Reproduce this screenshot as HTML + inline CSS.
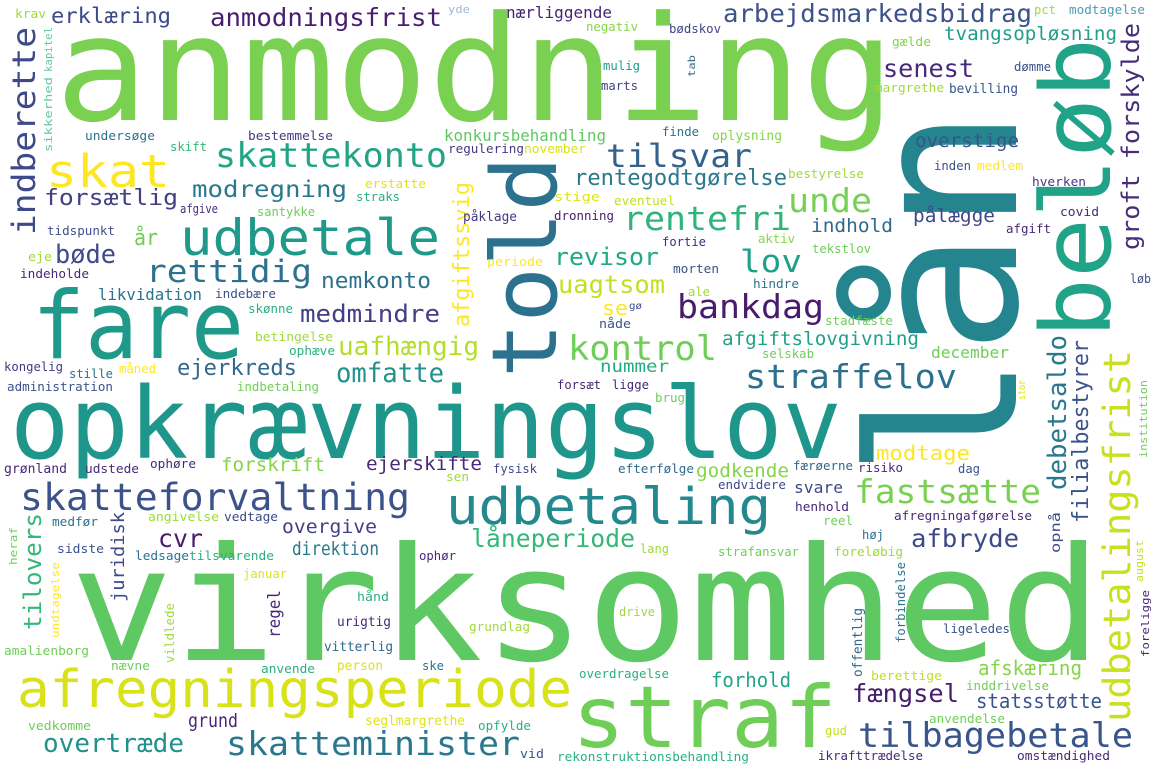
<!DOCTYPE html>
<html><head><meta charset="utf-8"><title>Word cloud</title>
<style>
html,body{margin:0;padding:0;background:#fff;}
svg{display:block;}
text{font-family:"DejaVu Sans Mono","Liberation Mono",monospace;}
</style></head>
<body>
<svg id="cloud" width="1155" height="770" viewBox="0 0 1155 770" xmlns="http://www.w3.org/2000/svg">
<rect x="0" y="0" width="1155" height="770" fill="#ffffff"/>
</svg>
<script>
// [word, x, baselineY, fontSize, textLength, rotated, color]
const cloud = [
["anmodning",55,120,146,840,0,"#7ad151"],
["lån",1016,478,205,370,1,"#25858e"],
["virksomhed",70,660,158,1032,0,"#5ec962"],
["opkrævningslov",10,458,99,832,0,"#1f968b"],
["fare",32,358,94,212,0,"#1f998a"],
["told",556,378,90,222,1,"#2c728e"],
["beløb",1110,338,96,300,1,"#20a386"],
["straf",572,747,86,265,0,"#6ece58"],
["afregningsperiode",17,707,52,555,0,"#d8e219"],
["udbetale",180,255,50,260,0,"#1f9a8a"],
["udbetaling",446,524,51,325,0,"#23898e"],
["skat",46,187,45,124,0,"#fde725"],
["skattekonto",215,167,34,232,0,"#21a585"],
["skatteforvaltning",20,510,37,390,0,"#3b528b"],
["skatteminister",226,755,33,294,0,"#2a788e"],
["tilbagebetale",858,747,34,275,0,"#39568c"],
["udbetalingsfrist",1130,722,37,372,1,"#c8e020"],
["fastsætte",854,503,33,187,0,"#7ad151"],
["rentefri",623,230,33,168,0,"#2fb47c"],
["tilsvar",606,167,32,146,0,"#33638d"],
["unde",788,212,33,84,0,"#75d054"],
["bankdag",677,318,33,147,0,"#481b6d"],
["kontrol",568,360,34,149,0,"#6ece58"],
["straffelov",745,388,33,212,0,"#2d708e"],
["lov",740,272,31,62,0,"#1fa187"],
["rettidig",146,282,31,166,0,"#2c728e"],
["medmindre",300,322,24,140,0,"#433e85"],
["indberette",35,235,32,208,1,"#3e4989"],
["erklæring",51,23,21,120,0,"#3e4989"],
["anmodningsfrist",210,26,25,232,0,"#481f70"],
["arbejdsmarkedsbidrag",723,22,25,309,0,"#3b528b"],
["senest",883,77,25,91,0,"#482878"],
["groft forskylde",1139,250,24,227,1,"#472c7a"],
["tvangsopløsning",944,40,19,173,0,"#1f9e89"],
["modregning",192,197,23,155,0,"#2a788e"],
["forsætlig",44,205,22,134,0,"#433e85"],
["bøde",55,263,26,61,0,"#3e4a89"],
["år",134,245,22,24,0,"#6ece58"],
["nemkonto",321,288,22,110,0,"#2c728e"],
["uafhængig",338,355,26,141,0,"#b5de2b"],
["ejerkreds",177,375,22,120,0,"#31688e"],
["omfatte",336,382,27,108,0,"#21918c"],
["revisor",554,265,24,105,0,"#22a884"],
["uagtsom",558,293,25,107,0,"#c2df23"],
["se",602,315,20,26,0,"#fde725"],
["overstige",915,147,19,104,0,"#3b528b"],
["pålægge",913,222,19,82,0,"#3e4989"],
["indhold",811,232,19,82,0,"#31688e"],
["afgiftslovgivning",722,345,19,197,0,"#1fa187"],
["december",931,358,16,78,0,"#6ece58"],
["nummer",600,372,17,69,0,"#23a983"],
["debetsaldo",1066,490,26,155,1,"#2a788e"],
["filialbestyrer",1088,523,22,183,1,"#3b528b"],
["modtage",876,460,20,94,0,"#fde725"],
["godkende",696,477,19,93,0,"#86d549"],
["ejerskifte",366,470,19,116,0,"#482878"],
["forskrift",221,471,19,104,0,"#86d549"],
["afbryde",911,547,25,108,0,"#3e4989"],
["låneperiode",471,547,25,164,0,"#35b779"],
["fængsel",852,702,25,107,0,"#481b6d"],
["statsstøtte",976,708,20,126,0,"#3b528b"],
["afskæring",978,675,20,104,0,"#86d549"],
["forhold",711,687,20,80,0,"#21a585"],
["tilovers",41,630,24,117,1,"#35b779"],
["juridisk",124,602,18,90,1,"#3e4a89"],
["cvr",158,547,25,45,0,"#481b6d"],
["overgive",282,533,19,95,0,"#433e85"],
["direktion",292,555,19,87,0,"#2a788e"],
["overtræde",43,752,26,141,0,"#21918c"],
["grund",188,727,19,50,0,"#482878"],
["regel",280,638,17,48,1,"#482878"],
["rentegodtgørelse",574,185,22,213,0,"#2a788e"],
["afgiftssvig",469,327,22,145,1,"#fde725"],
["svare",794,493,16,49,0,"#3e4989"],
["krav",15,18,12,31,0,"#a0da39"],
["kapitel",52,72,11,45,1,"#5ec9a0"],
["sikkerhed",52,152,11,75,1,"#5ec9a0"],
["yde",448,13,11,22,0,"#9eb8d8"],
["nærliggende",506,18,16,106,0,"#482475"],
["negativ",586,31,12,52,0,"#86d549"],
["bødskov",669,33,12,52,0,"#414487"],
["pct",1034,14,12,22,0,"#a5db36"],
["modtagelse",1069,14,12,76,0,"#4c9db0"],
["gælde",892,46,12,39,0,"#86d549"],
["mulig",603,70,12,37,0,"#1f9e89"],
["tab",695,77,10,22,1,"#31688e"],
["marts",601,90,12,37,0,"#414487"],
["dømme",1014,71,12,37,0,"#3b528b"],
["margrethe",875,92,12,69,0,"#a0da39"],
["bevilling",949,93,13,69,0,"#3b528b"],
["undersøge",85,140,12,70,0,"#2c728e"],
["bestemmelse",248,140,12,85,0,"#443983"],
["skift",170,151,12,37,0,"#35b779"],
["konkursbehandling",444,141,16,162,0,"#5ec962"],
["regulering",448,153,12,76,0,"#443983"],
["november",524,153,12,62,0,"#d8e219"],
["finde",662,136,12,37,0,"#2c728e"],
["oplysning",712,140,13,70,0,"#86d549"],
["erstatte",365,188,12,61,0,"#dde318"],
["straks",356,201,12,44,0,"#2ab07f"],
["stige",554,201,12,46,0,"#dde318"],
["bestyrelse",788,178,12,76,0,"#a0da39"],
["inden",934,170,12,37,0,"#3b528b"],
["medlem",977,170,12,46,0,"#fde725"],
["hverken",1032,186,12,54,0,"#443983"],
["afgive",180,213,12,38,0,"#472d7b"],
["santykke",257,216,12,58,0,"#6ece58"],
["påklage",463,221,13,54,0,"#443983"],
["dronning",554,220,12,60,0,"#481b6d"],
["eventuel",614,205,12,61,0,"#c2df23"],
["covid",1060,216,12,39,0,"#482878"],
["afgift",1006,233,12,45,0,"#482878"],
["tidspunkt",47,235,12,68,0,"#3b528b"],
["aktiv",758,243,12,37,0,"#86d549"],
["fortie",662,246,12,44,0,"#482878"],
["tekstlov",812,253,12,59,0,"#6ece58"],
["eje",28,261,12,24,0,"#a0da39"],
["periode",487,266,12,56,0,"#fde725"],
["morten",673,273,12,46,0,"#3b528b"],
["indeholde",20,278,12,69,0,"#482878"],
["løb",1130,283,12,21,0,"#3b528b"],
["hindre",753,288,12,46,0,"#2c728e"],
["ale",688,296,12,22,0,"#a0da39"],
["indebære",215,298,12,61,0,"#3b528b"],
["likvidation",98,300,16,104,0,"#2c728e"],
["gø",629,309,10,13,0,"#3b528b"],
["skønne",248,313,12,45,0,"#2ab07f"],
["nåde",599,328,12,32,0,"#3b528b"],
["stadfæste",825,325,12,68,0,"#6ece58"],
["betingelse",255,341,12,78,0,"#a0da39"],
["ophæve",289,355,12,46,0,"#2ab07f"],
["selskab",762,358,12,52,0,"#6ece58"],
["måned",119,373,12,37,0,"#fde725"],
["kongelig",4,371,12,59,0,"#443983"],
["stille",69,378,12,44,0,"#2c728e"],
["administration",7,391,12,106,0,"#3b528b"],
["indbetaling",237,391,12,82,0,"#6ece58"],
["forsæt",557,389,12,44,0,"#482878"],
["ligge",612,389,12,37,0,"#482878"],
["stor",1025,400,10,20,1,"#d8e219"],
["institution",1147,458,11,78,1,"#6ece58"],
["brug",655,402,12,30,0,"#6ece58"],
["grønland",4,473,13,63,0,"#482878"],
["udstede",85,473,12,54,0,"#482878"],
["ophøre",150,468,12,46,0,"#482878"],
["fysisk",493,473,12,44,0,"#3e4989"],
["sen",446,481,12,23,0,"#a0da39"],
["efterfølge",618,473,12,76,0,"#31688e"],
["færøerne",793,470,12,60,0,"#31688e"],
["risiko",858,472,12,45,0,"#482878"],
["dag",958,473,12,22,0,"#3b528b"],
["endvidere",718,489,12,68,0,"#3e4989"],
["henhold",795,511,12,54,0,"#482878"],
["afregningafgørelse",894,520,12,138,0,"#482878"],
["reel",823,525,12,30,0,"#6ece58"],
["angivelse",148,521,12,71,0,"#a0da39"],
["vedtage",224,521,12,54,0,"#3e4989"],
["medfør",52,526,12,46,0,"#2c728e"],
["heraf",17,565,11,38,1,"#6ece58"],
["opnå",1060,553,13,41,1,"#3e4989"],
["høj",862,539,12,22,0,"#2c728e"],
["sidste",57,553,12,47,0,"#3b528b"],
["ledsage",135,560,12,54,0,"#2c728e"],
["tilsvarende",189,560,12,85,0,"#2ab07f"],
["ophør",419,560,12,37,0,"#482878"],
["lang",640,553,12,29,0,"#a0da39"],
["strafansvar",718,556,12,81,0,"#6ece58"],
["foreløbig",834,556,12,69,0,"#a0da39"],
["august",1143,582,11,42,1,"#c8e020"],
["januar",243,578,12,44,0,"#dde318"],
["undtagelse",59,638,11,76,1,"#fde725"],
["forbindelse",905,643,12,81,1,"#2c728e"],
["hånd",357,601,12,32,0,"#2ab07f"],
["vildlede",174,663,12,60,1,"#a0da39"],
["drive",619,616,12,36,0,"#a0da39"],
["offentlig",862,677,13,69,1,"#31688e"],
["urigtig",337,626,13,54,0,"#482878"],
["grundlag",469,631,12,61,0,"#a0da39"],
["ligeledes",943,633,12,67,0,"#3b528b"],
["foreligge",1149,657,11,67,1,"#482878"],
["amalienborg",4,655,12,85,0,"#6ece58"],
["vitterlig",324,651,13,69,0,"#31688e"],
["nævne",111,670,12,39,0,"#6ece58"],
["anvende",261,673,12,54,0,"#2ab07f"],
["person",337,670,13,46,0,"#dde318"],
["ske",422,670,12,22,0,"#2c728e"],
["overdragelse",579,678,12,90,0,"#2ab07f"],
["berettige",871,680,12,71,0,"#c2df23"],
["inddrivelse",966,690,12,83,0,"#6ece58"],
["anvendelse",929,723,12,76,0,"#6ece58"],
["vedkomme",28,730,12,63,0,"#6ece58"],
["seglmargrethe",365,725,13,100,0,"#dde318"],
["opfylde",478,730,12,53,0,"#2ab07f"],
["gud",825,735,12,22,0,"#c2df23"],
["vid",520,758,12,24,0,"#3b528b"],
["rekonstruktionsbehandling",557,761,12,192,0,"#2ab07f"],
["ikrafttrædelse",818,760,12,105,0,"#482878"],
["omstændighed",1017,760,12,93,0,"#482878"]
];
const words = cloud.map(function(c){return c[0];});
const fontSizes = cloud.map(function(c){return c[3];});
const colors = cloud.map(function(c){return c[6];});

const svg = document.getElementById('cloud');
const NS = 'http://www.w3.org/2000/svg';
cloud.forEach(function(c, i){
  const t = document.createElementNS(NS, 'text');
  
  
  t.setAttribute('x', c[1]);
  t.setAttribute('y', c[2]);
  t.setAttribute('font-size', fontSizes[i]);
  t.setAttribute('fill', colors[i]);
  t.setAttribute('textLength', c[4]);
  t.setAttribute('lengthAdjust', 'spacingAndGlyphs');
  if (c[5]) t.setAttribute('transform', 'rotate(-90 ' + c[1] + ' ' + c[2] + ')');
  t.textContent = words[i];
  svg.appendChild(t);
});
</script>
</body></html>
